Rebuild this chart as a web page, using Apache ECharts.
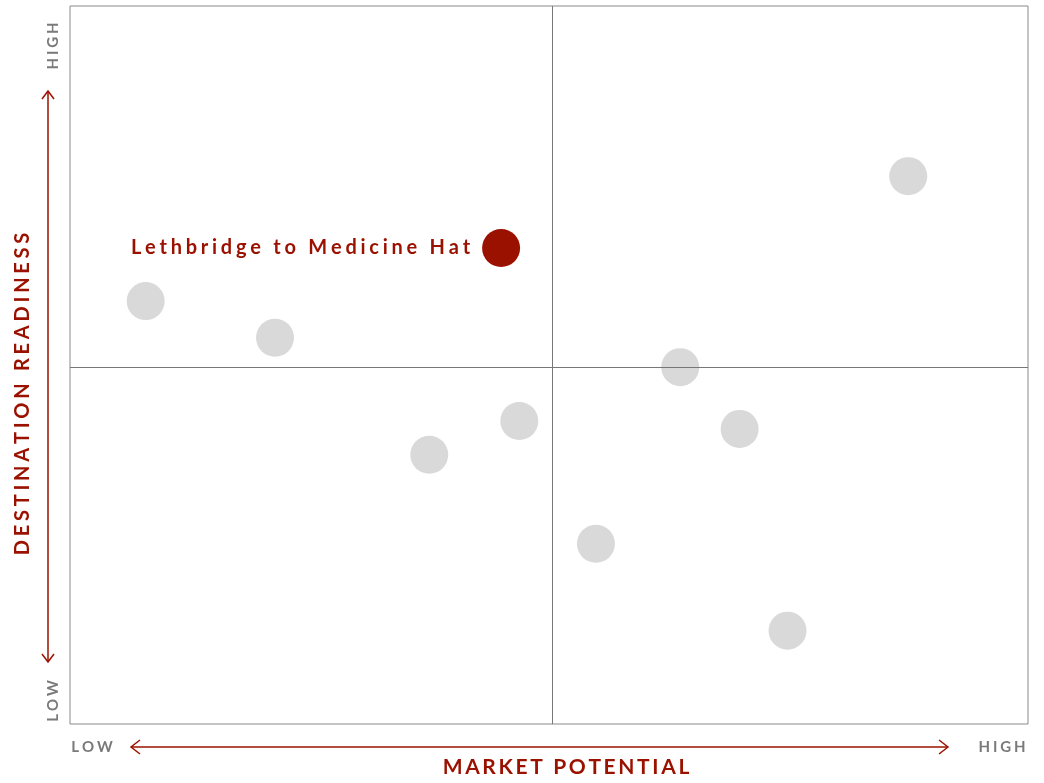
<!DOCTYPE html>
<html>
<head>
<meta charset="utf-8">
<style>
  html, body { margin: 0; padding: 0; background: #ffffff; }
  #chart { width: 1044px; height: 783px; }
</style>
<script src="https://cdn.jsdelivr.net/npm/echarts@6/dist/echarts.min.js"></script>
</head>
<body>
<div id="chart"></div>
<script>
// Destinations plotted by market potential (x) and destination readiness (y), 0–100 scale
const highlightName = 'Lethbridge to Medicine Hat';
const highlightPoint = [45.0, 66.3];

const otherPoints = [
  [87.5, 76.3],
  [7.9, 58.9],
  [21.4, 53.8],
  [63.7, 49.7],
  [46.9, 42.2],
  [37.5, 37.5],
  [69.9, 41.1],
  [54.9, 25.1],
  [74.9, 13.0]
];

const xAxisTitle = 'MARKET POTENTIAL';
const yAxisTitle = 'DESTINATION READINESS';
const lowLabel = 'LOW';
const highLabel = 'HIGH';
// quadrant dividers
const midX = 50.3;
const midY = 49.7;

const RED = '#9b1100';
const GREY_DOT = '#d9d9d9';
const GREY_TEXT = '#7a7a7a';
const FONT = 'Lato, "Open Sans", sans-serif';

// spread letters apart to imitate tracked typography
function track(s, gap) { return s.split('').join(gap); }
const HAIR = '\u200A';
const THIN = '\u2009';

const chart = echarts.init(document.getElementById('chart'));

const option = {
  animation: false,
  backgroundColor: '#ffffff',
  grid: {
    left: 70, top: 6, right: 16, bottom: 59,
    outerBoundsMode: 'none', containLabel: false,
    show: true, borderColor: '#8a8a8a', borderWidth: 1
  },
  xAxis: {
    type: 'value', min: 0, max: 100,
    axisLine: { show: false }, axisTick: { show: false }, axisLabel: { show: false }, splitLine: { show: false }
  },
  yAxis: {
    type: 'value', min: 0, max: 100,
    axisLine: { show: false }, axisTick: { show: false }, axisLabel: { show: false }, splitLine: { show: false }
  },
  series: [
    {
      type: 'scatter',
      symbolSize: 38,
      itemStyle: { color: GREY_DOT, opacity: 1 },
      data: otherPoints,
      silent: true,
      markLine: {
        silent: true, symbol: 'none', label: { show: false },
        lineStyle: { color: '#777777', width: 1, type: 'solid' },
        data: [{ xAxis: midX }, { yAxis: midY }]
      },
      z: 2
    },
    {
      type: 'scatter',
      symbolSize: 38,
      itemStyle: { color: RED, opacity: 1 },
      data: [{ name: highlightName, value: highlightPoint }],
      label: {
        show: true, position: 'left', distance: 12,
        formatter: () => track(highlightName, THIN + HAIR),
        color: RED, fontSize: 20, fontWeight: 'bold', fontFamily: FONT
      },
      z: 3
    }
  ],
  graphic: [
    // axis titles
    { type: 'text', x: 566, y: 767, style: { text: track(xAxisTitle, THIN), fill: RED, font: 'bold 21px ' + FONT, align: 'center', verticalAlign: 'middle' } },
    { type: 'text', x: 23, y: 394, rotation: Math.PI / 2, style: { text: track(yAxisTitle, THIN + HAIR), fill: RED, font: 'bold 20px ' + FONT, align: 'center', verticalAlign: 'middle' } },
    // vertical arrow (readiness)
    { type: 'line', shape: { x1: 48, y1: 91, x2: 48, y2: 662 }, style: { stroke: RED, lineWidth: 1.5 } },
    { type: 'polyline', shape: { points: [[42, 99], [48, 91], [54, 99]] }, style: { stroke: RED, lineWidth: 1.5, fill: null } },
    { type: 'polyline', shape: { points: [[42, 654], [48, 662], [54, 654]] }, style: { stroke: RED, lineWidth: 1.5, fill: null } },
    // horizontal arrow (potential)
    { type: 'line', shape: { x1: 131, y1: 747, x2: 948, y2: 747 }, style: { stroke: RED, lineWidth: 1.5 } },
    { type: 'polyline', shape: { points: [[140, 740], [131, 747], [140, 754]] }, style: { stroke: RED, lineWidth: 1.5, fill: null } },
    { type: 'polyline', shape: { points: [[939, 740], [948, 747], [939, 754]] }, style: { stroke: RED, lineWidth: 1.5, fill: null } },
    // low / high end labels
    { type: 'text', x: 92, y: 747, style: { text: track(lowLabel, THIN + HAIR), fill: GREY_TEXT, font: 'bold 15px ' + FONT, align: 'center', verticalAlign: 'middle' } },
    { type: 'text', x: 1002, y: 747, style: { text: track(highLabel, THIN + HAIR), fill: GREY_TEXT, font: 'bold 15px ' + FONT, align: 'center', verticalAlign: 'middle' } },
    { type: 'text', x: 53, y: 701, rotation: Math.PI / 2, style: { text: track(lowLabel, THIN + HAIR), fill: GREY_TEXT, font: 'bold 15px ' + FONT, align: 'center', verticalAlign: 'middle' } },
    { type: 'text', x: 53, y: 46, rotation: Math.PI / 2, style: { text: track(highLabel, THIN + HAIR), fill: GREY_TEXT, font: 'bold 15px ' + FONT, align: 'center', verticalAlign: 'middle' } }
  ]
};

chart.setOption(option);
</script>
</body>
</html>
